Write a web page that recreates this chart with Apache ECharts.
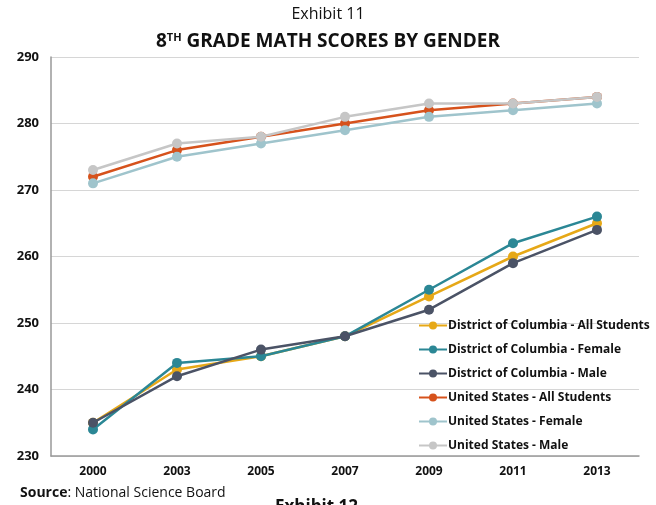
<!DOCTYPE html>
<html>
<head>
<meta charset="utf-8">
<script src="https://cdn.jsdelivr.net/npm/echarts@6/dist/echarts.min.js"></script>
<style>
  html, body { margin: 0; padding: 0; background: #fff; }
  #chart { width: 656px; height: 505px; }
</style>
</head>
<body>
<div id="chart"></div>
<script>
const years = ["2000", "2003", "2005", "2007", "2009", "2011", "2013"];

const dcAll = [235, 243, 245, 248, 254, 260, 265];
const dcFemale = [234, 244, 245, 248, 255, 262, 266];
const dcMale = [235, 242, 246, 248, 252, 259, 264];
const usAll = [272, 276, 278, 280, 282, 283, 284];
const usFemale = [271, 275, 277, 279, 281, 282, 283];
const usMale = [273, 277, 278, 281, 283, 283, 284];

const seriesDefs = [
  { name: "District of Columbia - All Students", data: dcAll, color: "#e6a817" },
  { name: "District of Columbia - Female", data: dcFemale, color: "#2b8795" },
  { name: "District of Columbia - Male", data: dcMale, color: "#4b5366" },
  { name: "United States - All Students", data: usAll, color: "#d6521c" },
  { name: "United States - Female", data: usFemale, color: "#9fc4cc" },
  { name: "United States - Male", data: usMale, color: "#c6c6c6" }
];

const chart = echarts.init(document.getElementById("chart"));

const option = {
  animation: false,
  backgroundColor: "#fff",
  textStyle: { fontFamily: "Open Sans" },
  title: [
    {
      text: "Exhibit 11",
      left: "center",
      top: 1,
      textStyle: { fontFamily: "Open Sans", fontWeight: "normal", fontSize: 16, color: "#111" }
    },
    {
      text: "{a|8}{s|TH}{a| GRADE MATH SCORES BY GENDER}",
      left: "center",
      top: 27,
      textStyle: {
        rich: {
          a: { fontFamily: "Open Sans", fontWeight: "bold", fontSize: 19, color: "#111" },
          s: { fontFamily: "Open Sans", fontWeight: "bold", fontSize: 11, color: "#111", verticalAlign: "top", padding: [0, 0, 9, 0] }
        }
      }
    }
  ],
  legend: {
    orient: "vertical",
    left: 413,
    top: 312,
    itemGap: 7,
    itemWidth: 28,
    itemHeight: 10,
    data: seriesDefs.map(s => s.name),
    textStyle: { fontFamily: "Open Sans", fontWeight: "bold", fontSize: 12, color: "#111", lineHeight: 17, padding: [0, 0, 0, -4] }
  },
  grid: { left: 51, right: 17, top: 57, bottom: 49 },
  xAxis: {
    type: "category",
    data: years,
    boundaryGap: true,
    axisLine: { lineStyle: { color: "#999", width: 1.5 } },
    axisTick: { show: false },
    axisLabel: { fontFamily: "Open Sans", fontWeight: "bold", fontSize: 12, color: "#111", margin: 10 },
    splitLine: { show: false }
  },
  yAxis: {
    type: "value",
    min: 230,
    max: 290,
    interval: 10,
    axisLine: { show: true, lineStyle: { color: "#999", width: 1.5 } },
    axisTick: { show: false },
    axisLabel: { fontFamily: "Open Sans", fontWeight: "bold", fontSize: 13, color: "#111", margin: 12 },
    splitLine: { lineStyle: { color: "#d6d6d6", width: 1 } }
  },
  graphic: [
    {
      type: "text",
      left: 20,
      top: 486,
      style: {
        text: "{b|Source}: National Science Board",
        rich: { b: { fontFamily: "Open Sans", fontWeight: "bold", fontSize: 14, fill: "#111" } },
        font: "14px 'Open Sans'",
        fill: "#111"
      }
    },
    {
      type: "text",
      left: 275,
      top: 499,
      style: { text: "Exhibit 12", font: "bold 17px 'Open Sans'", fill: "#111" }
    }
  ],
  series: seriesDefs.map((s, i) => ({
    name: s.name,
    type: "line",
    data: s.data,
    symbol: "circle",
    symbolSize: 10,
    z: 2 + i,
    lineStyle: { color: s.color, width: 2.5 },
    itemStyle: { color: s.color }
  }))
};

chart.setOption(option);
</script>
</body>
</html>
